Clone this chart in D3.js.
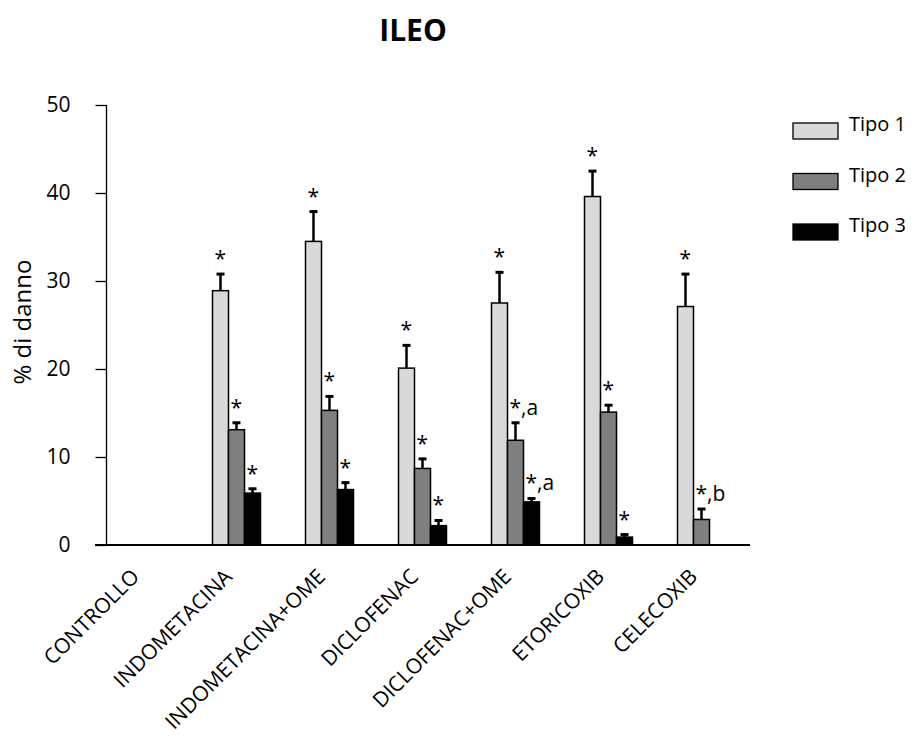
<!DOCTYPE html>
<meta charset="utf-8">
<style>
html{ background:#fff; }
body{ margin:0; }
text{ font-family:"Open Sans", sans-serif; fill:#000; }
</style>
<body>
<script src="https://d3js.org/d3.v7.min.js"></script>
<script>

var width = 916,
    height = 742;

// data
var categories = ["CONTROLLO","INDOMETACINA","INDOMETACINA+OME","DICLOFENAC","DICLOFENAC+OME","ETORICOXIB","CELECOXIB"];
var series = ["Tipo 1","Tipo 2","Tipo 3"];
var tipo1 = [0, 28.9, 34.5, 20.1, 27.5, 39.6, 27.1];
var tipo2 = [0, 13.1, 15.3, 8.7, 11.9, 15.1, 2.9];
var tipo3 = [0, 5.9, 6.3, 2.2, 4.9, 0.9, null];
var err1 = [0, 2.0, 3.5, 2.7, 3.6, 3.0, 3.8];
var err2 = [0, 0.9, 1.7, 1.2, 2.1, 0.9, 1.3];
var err3 = [0, 0.6, 0.9, 0.7, 0.5, 0.4, null];
var lab1 = ["", "*", "*", "*", "*", "*", "*"];
var lab2 = ["", "*", "*", "*", "*,a", "*", "*,b"];
var lab3 = ["", "*", "*", "*", "*,a", "*", ""];
var yTicks = [0, 10, 20, 30, 40, 50];

var colors = ["#d9d9d9", "#7f7f7f", "#000000"];

var svg = d3.select("body").append("svg")
    .attr("width", width)
    .attr("height", height);

var y = d3.scaleLinear().domain([0, 50]).range([545, 105]);
var x = d3.scaleBand().domain(categories).range([97, 748]);
var xs = d3.scaleBand().domain(series).range([0, 48]);

var rows = [];
categories.forEach(function(c, i){
  [tipo1, tipo2, tipo3].forEach(function(arr, j){
    var e = [err1, err2, err3][j][i];
    var l = [lab1, lab2, lab3][j][i];
    if (arr[i] === null) return;
    rows.push({cat:c, s:series[j], v:arr[i], e:e, lab:l, j:j});
  });
});

function bx(d){ return x(d.cat) + (x.bandwidth() - 48)/2 + xs(d.s); }

// title
svg.append("text")
  .attr("x", 413).attr("y", 41)
  .attr("text-anchor", "middle")
  .style("font-size", "30px").style("font-weight", "bold")
  .text("ILEO");

// y label
svg.append("text")
  .attr("transform", "translate(31,322) rotate(-90)")
  .attr("text-anchor", "middle")
  .style("font-size", "24px")
  .text("% di danno");

// y axis
var yAxis = d3.axisLeft(y).tickValues(yTicks).tickSize(11).tickPadding(25);
var gy = svg.append("g").attr("transform", "translate(106.5,0)").call(yAxis);
gy.select(".domain").attr("stroke", "#000").attr("stroke-width", 1.3).attr("d", "M0,105V545");
gy.selectAll(".tick line").attr("stroke", "#000").attr("stroke-width", 1.3);
gy.selectAll(".tick text").style("font-size", "21px").style("font-family", "'Open Sans', sans-serif");

// bars
svg.append("g").selectAll("rect")
  .data(rows.filter(function(d){ return d.v > 0; }))
  .enter().append("rect")
  .attr("x", bx)
  .attr("y", function(d){ return y(d.v); })
  .attr("width", xs.bandwidth())
  .attr("height", function(d){ return y(0) - y(d.v); })
  .attr("fill", function(d){ return colors[d.j]; })
  .attr("stroke", "#000")
  .attr("stroke-width", 1.5);

// error bars
var eb = svg.append("g").selectAll("g")
  .data(rows.filter(function(d){ return d.v > 0; }))
  .enter().append("g");
eb.append("line")
  .attr("x1", function(d){ return bx(d) + xs.bandwidth()/2; })
  .attr("x2", function(d){ return bx(d) + xs.bandwidth()/2; })
  .attr("y1", function(d){ return y(d.v); })
  .attr("y2", function(d){ return y(d.v + d.e); })
  .attr("stroke", "#000").attr("stroke-width", 2.5);
eb.append("line")
  .attr("x1", function(d){ return bx(d) + xs.bandwidth()/2 - 4; })
  .attr("x2", function(d){ return bx(d) + xs.bandwidth()/2 + 4; })
  .attr("y1", function(d){ return y(d.v + d.e) + 1; })
  .attr("y2", function(d){ return y(d.v + d.e) + 1; })
  .attr("stroke", "#000").attr("stroke-width", 3);

// significance labels
eb.filter(function(d){ return d.lab; })
  .append("text")
  .attr("x", function(d){ return bx(d) + xs.bandwidth()/2 - 6; })
  .attr("y", function(d){ return y(d.v + d.e) - 7; })
  .style("font-size", "21px")
  .text(function(d){ return d.lab; });

// x axis
svg.append("line")
  .attr("x1", 95).attr("x2", 750)
  .attr("y1", y(0)).attr("y2", y(0))
  .attr("stroke", "#000").attr("stroke-width", 2);

svg.append("g").selectAll("text")
  .data(categories)
  .enter().append("text")
  .attr("transform", function(d){
    return "translate(" + (x(d) + x.bandwidth()/2 - 3) + "," + 578 + ") rotate(-45)";
  })
  .attr("text-anchor", "end")
  .style("font-size", "21px")
  .text(function(d){ return d; });

// legend
var lg = svg.append("g").selectAll("g")
  .data(series)
  .enter().append("g")
  .attr("transform", function(d, i){ return "translate(793," + (123 + i*50.5) + ")"; });
lg.append("rect")
  .attr("width", 45).attr("height", 16)
  .attr("fill", function(d, i){ return colors[i]; })
  .attr("stroke", "#000").attr("stroke-width", 1.3);
lg.append("text")
  .attr("x", 56).attr("y", 8)
  .style("font-size", "20px")
  .text(function(d){ return d; });

</script>
</body>
